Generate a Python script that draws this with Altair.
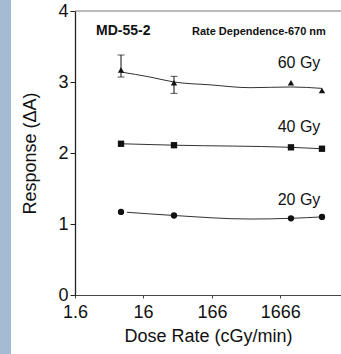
import altair as alt
import pandas as pd

# ---- data ----
dose_rate = [7.6, 45.7, 2400, 6860]
resp_60 = [3.17, 2.99, 2.99, 2.88]
resp_40 = [2.13, 2.11, 2.08, 2.06]
resp_20 = [1.17, 1.12, 1.08, 1.10]

err_x_60 = [7.6, 45.7]
err_lo_60 = [3.07, 2.84]
err_hi_60 = [3.38, 3.08]

fit_x_60 = [7.6, 20.3, 45.7, 155, 600, 2400, 6860]
fit_60 = [3.14, 3.07, 3.00, 2.96, 2.92, 2.93, 2.91]
fit_x_40 = [7.6, 45.7, 2400, 6860]
fit_40 = [2.13, 2.11, 2.08, 2.06]
fit_x_20 = [9.3, 45.7, 600, 2400, 6860]
fit_20 = [1.165, 1.12, 1.07, 1.08, 1.10]

series_names = ["60 Gy", "40 Gy", "20 Gy"]
series_shapes = ["triangle-up", "square", "circle"]
x_ticks = [1.6, 16, 166, 1666]
y_ticks = [0, 1, 2, 3, 4]

label_x = [3150, 3150, 3150]
label_y = [3.2, 2.30, 1.27]

FONT = "Liberation Sans"
INK = "#111111"

# ---- tables ----
pts = pd.DataFrame({
    "rate": dose_rate * 3,
    "resp": resp_60 + resp_40 + resp_20,
    "series": [s for s in series_names for _ in dose_rate],
})
fits = pd.DataFrame({
    "rate": fit_x_60 + fit_x_40 + fit_x_20,
    "resp": fit_60 + fit_40 + fit_20,
    "series": ["60 Gy"] * len(fit_x_60) + ["40 Gy"] * len(fit_x_40) + ["20 Gy"] * len(fit_x_20),
})
errs = pd.DataFrame({"rate": err_x_60, "lo": err_lo_60, "hi": err_hi_60})
labels = pd.DataFrame({"rate": label_x, "resp": label_y, "text": series_names})
titles = pd.DataFrame({
    "rate": [3.26, 84], "resp": [3.66, 3.66],
    "text": ["MD-55-2", "Rate Dependence-670 nm"], "size": [14, 11],
})

xs = alt.Scale(type="log", domain=[1.6, 13064], nice=False)
ys = alt.Scale(domain=[0, 4], nice=False)

x_enc = alt.X("rate:Q", scale=xs, axis=alt.Axis(
    values=x_ticks, title="Dose Rate (cGy/min)", labelExpr="datum.value + ''",
    grid=False, tickSize=3, labelPadding=5, titlePadding=6,
    labelFontSize=18, titleFontSize=18, labelFont=FONT, titleFont=FONT,
    labelColor=INK, titleColor=INK, titleFontWeight="normal",
    domainColor="#444444", tickColor="#444444", labelFlush=False,
))
y_enc = alt.Y("resp:Q", scale=ys, axis=alt.Axis(
    values=y_ticks, format="d", title="Response (ΔA)", grid=False, tickSize=5,
    labelPadding=2, titlePadding=18, labelFontSize=18, titleFontSize=18,
    labelFont=FONT, titleFont=FONT, labelColor=INK, titleColor=INK,
    titleFontWeight="normal", domainColor="#222222", domainWidth=1.3,
    tickColor="#222222", labelFlush=False,
))

strip = alt.Chart(pd.DataFrame({"a": [0]})).mark_rect(color="#a3bcd4").encode(
    x=alt.value(-75), x2=alt.value(-64), y=alt.value(-11), y2=alt.value(343)
)

top_line = alt.Chart(pd.DataFrame({"a": [0]})).mark_rule(color="#777777", strokeWidth=1).encode(
    y=alt.datum(4), x=alt.value(0), x2=alt.value(266)
)

lines = alt.Chart(fits).mark_line(color="#333333", strokeWidth=1, interpolate="monotone").encode(
    x=x_enc, y=y_enc, detail="series:N"
)

err_rules = alt.Chart(errs).mark_rule(color=INK, strokeWidth=1).encode(
    x=alt.X("rate:Q", scale=xs), y=alt.Y("lo:Q", scale=ys), y2="hi:Q"
)
err_cap_lo = alt.Chart(errs).mark_tick(color=INK, thickness=1, size=7, orient="horizontal").encode(
    x=alt.X("rate:Q", scale=xs), y=alt.Y("lo:Q", scale=ys)
)
err_cap_hi = alt.Chart(errs).mark_tick(color=INK, thickness=1, size=7, orient="horizontal").encode(
    x=alt.X("rate:Q", scale=xs), y=alt.Y("hi:Q", scale=ys)
)

points = alt.Chart(pts).mark_point(filled=True, color=INK, opacity=1, size=40).encode(
    x=alt.X("rate:Q", scale=xs), y=alt.Y("resp:Q", scale=ys),
    shape=alt.Shape("series:N", scale=alt.Scale(domain=series_names, range=series_shapes), legend=None),
)

series_text = alt.Chart(labels).mark_text(
    font=FONT, fontSize=16, color=INK, align="center", baseline="alphabetic"
).encode(x=alt.X("rate:Q", scale=xs), y=alt.Y("resp:Q", scale=ys), text="text:N")

title_text = alt.Chart(titles).mark_text(
    font=FONT, fontWeight="bold", color=INK, align="left", baseline="alphabetic"
).encode(
    x=alt.X("rate:Q", scale=xs), y=alt.Y("resp:Q", scale=ys), text="text:N",
    size=alt.Size("size:Q", scale=None, legend=None),
)

chart = alt.layer(
    strip, top_line, lines, err_rules, err_cap_lo, err_cap_hi, points, series_text, title_text
).properties(
    width=266, height=284,
    autosize=alt.AutoSizeParams(type="none"),
    padding={"left": 75, "top": 11, "right": 0, "bottom": 59},
    background="white",
).configure_view(stroke=None)

chart.save("out.html", embed_options={"renderer": "svg", "actions": False})
